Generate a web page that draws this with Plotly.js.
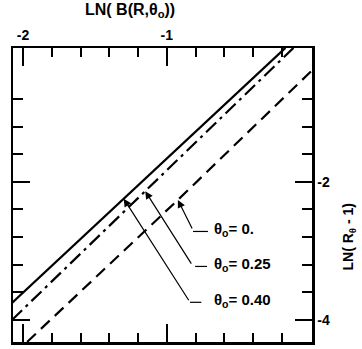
<!DOCTYPE html>
<html>
<head>
<meta charset="utf-8">
<script src="https://cdn.plot.ly/plotly-3.0.1.min.js"></script>
<style>
  html, body { margin: 0; padding: 0; background: #fff; }
  #plot { width: 362px; height: 349px; }
</style>
</head>
<body>
<div id="plot"></div>
<script>
// curves: LN(B) vs LN(R_theta - 1)
const solidX = [-2.077, -0.175];
const solidY = [-3.754, -0.058];
const dashDotX = [-2.077, -0.119];
const dashDotY = [-4.0, -0.058];
const dashX = [-1.972, -0.923, 0.014];
const dashY = [-4.319, -2.261, -0.377];

// axis ticks
const xTickVals = [-2, -1];
const xTickText = ['-2', '-1'];
const xMinorVals = [-1.8, -1.6, -1.4, -1.2, -0.8, -0.6, -0.4, -0.2];
const yTickVals = [-2, -4];
const yTickText = ['-2', '-4'];
const yMinorVals = [-0.8, -1.2, -1.6, -2.4, -2.8, -3.2, -3.6];

// labels and where their arrows point
const labelText = ['θ<sub>o</sub>= 0.', 'θ<sub>o</sub>= 0.25', 'θ<sub>o</sub>= 0.40'];
const tipX = [-0.923, -1.15, -1.30];
const tipY = [-2.261, -2.134, -2.244];

const FONT = 'Liberation Sans, Arial, sans-serif';

let traces = [
    { x: solidX, y: solidY, mode: 'lines', line: { color: '#000', width: 2.2 } },
    { x: dashDotX, y: dashDotY, mode: 'lines', line: { color: '#000', width: 2.2, dash: '14px,5px,3px,5px' } },
    { x: dashX, y: dashY, mode: 'lines', line: { color: '#000', width: 2.2, dash: '12px,7px' } }
];

// label layout (pixel offsets of the leader elbows, paper positions of texts)
let labelPos = [
    { ty: 0.381, ax: 15, ay: 30, hx0: 0.602, hx1: 0.652 },
    { ty: 0.262, ax: 47, ay: 74, hx0: 0.609, hx1: 0.649 },
    { ty: 0.140, ax: 66, ay: 103, hx0: 0.592, hx1: 0.630 }
];

let annotations = [];
let shapes = [];
for (let i = 0; i < labelText.length; i++) {
    let p = labelPos[i];
    annotations.push({
        xref: 'paper', yref: 'paper', x: 0.664, y: p.ty,
        xanchor: 'left', yanchor: 'middle', showarrow: false,
        text: labelText[i], font: { family: FONT, size: 15, color: '#000', weight: 'bold' }
    });
    annotations.push({
        xref: 'x', yref: 'y', x: tipX[i], y: tipY[i], text: '',
        showarrow: true, ax: p.ax, ay: p.ay, arrowhead: 2, arrowsize: 1.3,
        arrowwidth: 1.2, arrowcolor: '#000', standoff: 0, startstandoff: 0
    });
    shapes.push({
        type: 'line', xref: 'paper', yref: 'paper',
        x0: p.hx0, x1: p.hx1, y0: p.ty - 0.005, y1: p.ty - 0.005,
        line: { color: '#000', width: 1.2 }
    });
}
// axis titles
annotations.push({
    xref: 'paper', yref: 'paper', x: 0.39, y: 1.09, yanchor: 'bottom', showarrow: false,
    text: 'LN( B(R,θ<sub>o</sub>))', font: { family: FONT, size: 16, color: '#000', weight: 'bold' }
});
annotations.push({
    xref: 'paper', yref: 'paper', x: 1.125, y: 0.36, xanchor: 'center', showarrow: false,
    textangle: -90, text: 'LN( R<sub>θ</sub> - 1)',
    font: { family: FONT, size: 14, color: '#000', weight: 'bold' }
});

let layout = {
    width: 362, height: 349,
    margin: { l: 13, r: 50, t: 48, b: 7 },
    showlegend: false,
    paper_bgcolor: '#fff', plot_bgcolor: '#fff',
    xaxis: {
        range: [-2.07, 0.01], side: 'top', showgrid: false, zeroline: false,
        showline: true, mirror: 'allticks', linecolor: '#000', linewidth: 2.5,
        tickmode: 'array', tickvals: xTickVals, ticktext: xTickText,
        ticks: 'inside', ticklen: 18, tickwidth: 2, tickcolor: '#000',
        tickfont: { family: FONT, size: 14, color: '#000', weight: 'bold' },
        minor: { tickvals: xMinorVals, ticks: 'inside', ticklen: 9, tickwidth: 2, tickcolor: '#000' }
    },
    yaxis: {
        range: [-4.32, -0.06], side: 'right', showgrid: false, zeroline: false,
        showline: true, mirror: 'allticks', linecolor: '#000', linewidth: 2.5,
        tickmode: 'array', tickvals: yTickVals, ticktext: yTickText,
        ticks: 'inside', ticklen: 17, tickwidth: 2, tickcolor: '#000',
        tickfont: { family: FONT, size: 14, color: '#000', weight: 'bold' },
        minor: { tickvals: yMinorVals, ticks: 'inside', ticklen: 10, tickwidth: 2, tickcolor: '#000' }
    },
    annotations: annotations,
    shapes: shapes
};

Plotly.newPlot('plot', traces, layout, { displayModeBar: false, staticPlot: true });
</script>
</body>
</html>
